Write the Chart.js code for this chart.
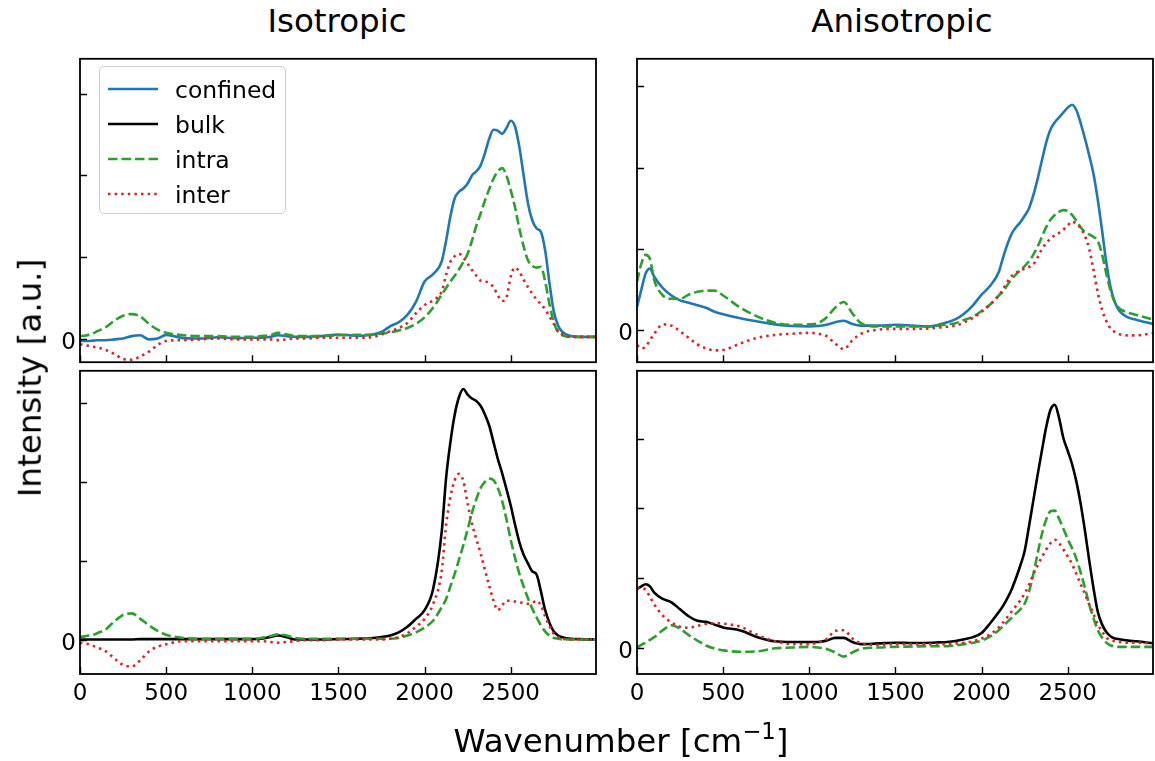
<!DOCTYPE html>
<html>
<head>
<meta charset="utf-8">
<script src="https://cdn.jsdelivr.net/npm/chart.js@4.4.0/dist/chart.umd.min.js"></script>
<style>
body { margin: 0; background: #fff; font-family: "DejaVu Sans", sans-serif; }
#fig { position: relative; width: 1155px; height: 761px; overflow: hidden; background: #fff; }
canvas { position: absolute; }
.txt { position: absolute; white-space: nowrap; color: #000; transform: translate(-50%, -50%); line-height: 1; }
.big { font-size: 32.5px; }
sup { font-size: 70%; vertical-align: 0.55em; line-height: 0; }
#legend { position: absolute; left: 99px; top: 66px; width: 187px; height: 148px; box-sizing: border-box;
  border: 1px solid #cccccc; border-radius: 5px; background: rgba(255,255,255,0.8); font-size: 23.5px; }
#legend .row { position: absolute; left: 0; height: 30px; }
#legend svg { position: absolute; left: 8px; top: 0; }
#legend span { position: absolute; left: 75px; top: 1px; }
</style>
</head>
<body>
<div id="fig">
  <canvas id="isoTop"></canvas>
  <canvas id="isoBottom"></canvas>
  <canvas id="aniTop"></canvas>
  <canvas id="aniBottom"></canvas>
  <div class="txt big" style="left:337px; top:21px;">Isotropic</div>
  <div class="txt big" style="left:902px; top:21px;">Anisotropic</div>
  <div class="txt big" style="left:30px; top:378px; transform: translate(-50%, -50%) rotate(-90deg);">Intensity [a.u.]</div>
  <div class="txt big" style="left:621px; top:741px;">Wavenumber [cm<sup>−1</sup>]</div>
  <div id="legend"></div>
</div>
<script>
// shared wavenumber grid [cm^-1]
const wavenumber = [0,25,50,75,100,150,200,250,300,350,400,450,500,600,700,800,900,1000,1050,1100,1150,1200,1250,1300,1400,1500,1600,1700,1750,1800,1850,1900,1950,2000,2050,2100,2125,2150,2175,2200,2225,2250,2275,2300,2325,2350,2375,2400,2425,2450,2475,2500,2525,2550,2575,2600,2625,2650,2675,2700,2725,2750,2775,2800,2850,2900,3000];

// isotropic, confined
const isoConfined = [-0.03,-0.03,-0.03,-0.025,-0.02,-0.02,-0.01,0.0,0.03,0.04,-0.01,0.0,0.045,
  0.005,0.0,0.015,0.005,0.01, 0.01,0.02,0.04,0.03,0.02,0.02, 0.03,0.05,0.035,0.05,
  0.08,0.15,0.20,0.29,0.45,0.70,0.79,0.95,
  1.20,1.50,1.72,1.80,1.84,1.90,2.00,2.05,2.12,2.27,2.45,2.56,2.55,2.51,2.58,2.67,2.60,2.35,2.00,1.66,1.45,1.35,1.31,1.08,0.68,0.33,0.16,0.08,
  0.03,0.02,0.02];
const isoIntra = [0.03,0.035,0.045,0.06,0.09,0.14,0.22,0.28,0.30,0.27,0.18,0.11,0.07,
  0.04,0.03,0.03,0.02,0.02, 0.03,0.04,0.07,0.05,0.03,0.03, 0.03,0.04,0.045,0.05,
  0.06,0.075,0.10,0.13,0.18,0.26,0.38,0.54,
  0.62,0.70,0.77,0.85,0.94,1.04,1.20,1.38,1.53,1.69,1.83,1.96,2.05,2.09,2.00,1.82,1.61,1.35,1.13,0.96,0.89,0.87,0.88,0.70,0.42,0.20,0.08,0.04,
  0.02,0.02,0.02];
const isoInter = [-0.07,-0.08,-0.09,-0.10,-0.11,-0.14,-0.19,-0.25,-0.26,-0.22,-0.16,-0.08,-0.03,
  -0.02,-0.01,0.0,-0.01,-0.01, -0.01,-0.01,-0.02,-0.01,0.0,0.0, 0.01,0.01,0.01,0.02,
  0.05,0.09,0.13,0.19,0.31,0.41,0.47,0.58,
  0.78,0.94,1.01,1.04,0.99,0.92,0.84,0.77,0.71,0.70,0.68,0.63,0.53,0.46,0.50,0.76,0.87,0.82,0.72,0.63,0.55,0.48,0.42,0.36,0.27,0.18,0.09,0.05,
  0.02,0.02,0.02];

// isotropic, bulk
const isoBulk = [0.01,0.01,0.01,0.01,0.01,0.01,0.01,0.01,0.01,0.015,0.015,0.015,0.015,
  0.015,0.015,0.015,0.015,0.015, 0.02,0.04,0.06,0.04,0.01,0.01, 0.01,0.015,0.02,0.03,
  0.04,0.06,0.10,0.17,0.27,0.38,0.65,1.38,
  2.05,2.50,2.85,3.07,3.17,3.10,3.05,3.02,2.96,2.85,2.71,2.50,2.29,2.11,1.91,1.70,1.46,1.24,1.08,0.97,0.87,0.83,0.62,0.38,0.22,0.11,0.06,0.04,
  0.02,0.015,0.01];
const isoBulkIntra = [0.04,0.05,0.06,0.07,0.09,0.14,0.24,0.32,0.34,0.27,0.19,0.12,0.07,
  0.03,0.02,0.02,0.02,0.02, 0.03,0.05,0.075,0.06,0.03,0.02, 0.02,0.02,0.02,0.02,
  0.02,0.02,0.03,0.06,0.10,0.16,0.25,0.42,
  0.52,0.68,0.84,1.02,1.20,1.40,1.61,1.78,1.92,2.00,2.04,2.02,1.92,1.76,1.53,1.27,1.04,0.84,0.68,0.53,0.40,0.29,0.19,0.11,0.06,0.03,0.02,0.01,
  0.01,0.01,0.01];
const isoBulkInter = [-0.03,-0.04,-0.05,-0.07,-0.09,-0.14,-0.23,-0.31,-0.33,-0.25,-0.14,-0.08,-0.05,
  -0.01,-0.01,-0.01,-0.01,-0.01, -0.01,-0.02,-0.03,-0.02,-0.01,0.0, 0.0,0.01,0.01,0.01,
  0.01,0.02,0.04,0.09,0.17,0.27,0.46,0.88,
  1.46,1.81,2.02,2.10,2.01,1.72,1.47,1.28,1.10,0.89,0.69,0.50,0.38,0.44,0.50,0.50,0.49,0.48,0.47,0.46,0.47,0.50,0.44,0.30,0.18,0.08,0.04,0.02,
  0.01,0.01,0.01];

// anisotropic, confined
const aniConfined = [0.29,0.50,0.70,0.76,0.66,0.52,0.43,0.37,0.34,0.31,0.28,0.23,0.20,
  0.15,0.11,0.075,0.055,0.05, 0.055,0.07,0.10,0.12,0.08,0.06, 0.06,0.07,0.06,0.05,
  0.07,0.10,0.14,0.21,0.31,0.44,0.55,0.72,
  0.90,1.06,1.19,1.27,1.33,1.41,1.50,1.66,1.86,2.09,2.31,2.47,2.56,2.62,2.68,2.74,2.775,2.71,2.55,2.36,2.15,1.92,1.60,1.22,0.82,0.52,0.34,0.24,
  0.16,0.13,0.08];
const aniIntra = [0.60,0.82,0.93,0.88,0.62,0.43,0.39,0.39,0.44,0.475,0.49,0.49,0.43,
  0.28,0.17,0.095,0.07,0.075, 0.09,0.16,0.28,0.35,0.21,0.09, 0.05,0.05,0.05,0.05,
  0.06,0.075,0.09,0.13,0.17,0.24,0.32,0.43,
  0.48,0.56,0.63,0.69,0.74,0.79,0.85,0.93,1.03,1.15,1.27,1.36,1.42,1.46,1.48,1.47,1.42,1.35,1.27,1.21,1.18,1.15,1.10,0.93,0.69,0.48,0.34,0.27,
  0.22,0.19,0.13];
const aniInter = [-0.18,-0.22,-0.20,-0.12,-0.04,0.075,0.06,-0.01,-0.09,-0.17,-0.22,-0.245,-0.24,
  -0.16,-0.09,-0.055,-0.04,-0.03, -0.04,-0.07,-0.16,-0.23,-0.12,-0.04, 0.01,0.02,0.02,0.025,
  0.035,0.045,0.06,0.10,0.155,0.23,0.32,0.43,
  0.51,0.60,0.67,0.71,0.74,0.76,0.78,0.81,0.90,1.00,1.07,1.13,1.17,1.20,1.24,1.29,1.34,1.31,1.26,1.16,1.00,0.74,0.46,0.25,0.11,0.02,-0.02,-0.045,
  -0.06,-0.06,-0.03];

// anisotropic, bulk
const aniBulk = [0.84,0.88,0.91,0.88,0.79,0.70,0.65,0.55,0.45,0.385,0.37,0.33,0.29,
  0.245,0.15,0.09,0.08,0.08, 0.08,0.10,0.14,0.14,0.08,0.05, 0.06,0.07,0.065,0.07,
  0.075,0.08,0.095,0.12,0.15,0.21,0.35,0.51,
  0.60,0.71,0.84,1.00,1.18,1.39,1.74,2.11,2.48,2.83,3.17,3.42,3.49,3.30,3.01,2.83,2.64,2.39,2.07,1.68,1.25,0.85,0.51,0.33,0.22,0.16,0.13,0.12,
  0.10,0.09,0.06];
const aniBulkIntra = [0.0,0.04,0.07,0.11,0.15,0.25,0.32,0.27,0.18,0.10,0.03,-0.015,-0.04,
  -0.06,-0.055,-0.01,0.0,0.01, 0.0,-0.02,-0.07,-0.13,-0.07,-0.02, 0.0,0.01,0.015,0.02,
  0.02,0.02,0.03,0.05,0.07,0.10,0.16,0.25,
  0.31,0.37,0.43,0.49,0.55,0.63,0.80,1.05,1.35,1.63,1.84,1.96,1.97,1.85,1.71,1.56,1.43,1.28,1.08,0.86,0.62,0.42,0.25,0.14,0.07,0.03,0.02,0.01,
  0.01,0.01,0.01];
const aniBulkInter = [0.86,0.86,0.83,0.73,0.62,0.46,0.36,0.30,0.285,0.31,0.34,0.35,0.345,
  0.30,0.18,0.09,0.05,0.05, 0.07,0.12,0.24,0.25,0.13,0.06, 0.04,0.05,0.05,0.05,
  0.05,0.05,0.06,0.07,0.09,0.13,0.19,0.29,
  0.36,0.44,0.52,0.60,0.68,0.78,0.90,1.05,1.18,1.30,1.41,1.50,1.55,1.50,1.41,1.31,1.20,1.06,0.91,0.77,0.62,0.48,0.33,0.23,0.14,0.11,0.09,0.08,
  0.07,0.07,0.06];

// series styles (legend order)
const seriesNames = ['confined', 'bulk', 'intra', 'inter'];
const seriesColors = ['#1f77b4', '#000000', '#2ca02c', '#d62728'];
const seriesDashes = [[], [], [9.5, 4], [2.5, 4.1]];

// axes: x range and ticks, y ranges (tick units) and ticks
const xMin = 0, xMax = 2995;
const xTickValues = [0, 500, 1000, 1500, 2000, 2500];
const yTickValues = [0, 1, 2, 3];
const yRanges = {
  isoTop: [-0.29, 3.43],
  isoBottom: [-0.425, 3.4],
  aniTop: [-0.39, 3.34],
  aniBottom: [-0.38, 3.98]
};

Chart.defaults.font.family = '"DejaVu Sans", sans-serif';
Chart.defaults.font.size = 23;
Chart.defaults.color = '#000';

function toPoints(values) {
  return values.map((v, i) => ({ x: wavenumber[i], y: v }));
}

function makeSet(which, values) {
  return {
    label: seriesNames[which],
    data: toPoints(values),
    borderColor: seriesColors[which],
    borderDash: seriesDashes[which],
    borderWidth: 2.6,
    borderCapStyle: 'butt',
    pointRadius: 0,
    cubicInterpolationMode: 'monotone',
    fill: false,
    order: which === 3 ? 1 : (which === 2 ? 2 : 3)
  };
}

// frame and inward ticks like the original
const framePlugin = {
  id: 'frame',
  afterDatasetsDraw(chart) {
    const { ctx, chartArea: a, scales } = chart;
    ctx.save();
    ctx.strokeStyle = '#000';
    ctx.lineWidth = 1.4;
    ctx.beginPath();
    scales.x.ticks.forEach(t => {
      const px = Math.round(scales.x.getPixelForValue(t.value)) + 0.5;
      ctx.moveTo(px, a.bottom);
      ctx.lineTo(px, a.bottom - 7);
    });
    scales.y.ticks.forEach(t => {
      const py = Math.round(scales.y.getPixelForValue(t.value)) + 0.5;
      ctx.moveTo(a.left, py);
      ctx.lineTo(a.left + 7, py);
    });
    ctx.stroke();
    ctx.lineWidth = 1.8;
    ctx.strokeRect(a.left, a.top, a.right - a.left, a.bottom - a.top);
    ctx.restore();
  }
};

// frame boxes in page pixels: left, top, right, bottom
const panels = [
  { id: 'isoTop', box: [80, 56, 596, 365], bottom: false, sets: [[0, isoConfined], [2, isoIntra], [3, isoInter]] },
  { id: 'isoBottom', box: [80, 368, 596, 674], bottom: true, sets: [[1, isoBulk], [2, isoBulkIntra], [3, isoBulkInter]] },
  { id: 'aniTop', box: [637, 56, 1153, 365], bottom: false, sets: [[0, aniConfined], [2, aniIntra], [3, aniInter]] },
  { id: 'aniBottom', box: [637, 368, 1153, 674], bottom: true, sets: [[1, aniBulk], [2, aniBulkIntra], [3, aniBulkInter]] }
];

panels.forEach(p => {
  const [l, t, r, b] = p.box;
  const padL = 50, padT = 15, padR = 15, padB = p.bottom ? 45 : 15;
  const cv = document.getElementById(p.id);
  cv.width = r - l + padL + padR;
  cv.height = b - t + padT + padB;
  cv.style.left = (l - padL) + 'px';
  cv.style.top = (t - padT) + 'px';
  cv.style.width = cv.width + 'px';
  cv.style.height = cv.height + 'px';

  new Chart(cv, {
    type: 'line',
    data: { datasets: p.sets.map(s => makeSet(s[0], s[1])) },
    options: {
      responsive: false,
      animation: false,
      devicePixelRatio: 1,
      layout: { padding: { left: 0, top: padT, right: padR, bottom: 0 } },
      plugins: { legend: { display: false }, tooltip: { enabled: false } },
      scales: {
        x: {
          type: 'linear',
          min: xMin,
          max: xMax,
          grid: { display: false, drawTicks: false },
          border: { display: false },
          ticks: { display: p.bottom, autoSkip: false, padding: 6, maxRotation: 0,
            callback: v => String(v) },
          afterBuildTicks: s => { s.ticks = xTickValues.map(v => ({ value: v })); },
          afterFit: s => { s.height = padB; }
        },
        y: {
          min: yRanges[p.id][0],
          max: yRanges[p.id][1],
          grid: { display: false, drawTicks: false },
          border: { display: false },
          ticks: { autoSkip: false, padding: 4, labelOffset: 4,
            callback: v => (v === 0 ? '0' : '') },
          afterBuildTicks: s => { s.ticks = yTickValues.map(v => ({ value: v })); },
          afterFit: s => { s.width = padL; }
        }
      }
    },
    plugins: [framePlugin]
  });
});

// legend, shared by all panels
const legend = document.getElementById('legend');
seriesNames.forEach((name, i) => {
  const row = document.createElement('div');
  row.className = 'row';
  row.style.top = (8 + i * 35) + 'px';
  row.style.width = '100%';
  const dash = seriesDashes[i].length ? seriesDashes[i].join(' ') : 'none';
  row.innerHTML = '<svg width="52" height="30"><line x1="0" y1="14" x2="50" y2="14" stroke="' + seriesColors[i] +
    '" stroke-width="2.6" stroke-dasharray="' + dash + '"/></svg><span>' + name + '</span>';
  legend.appendChild(row);
});
</script>
</body>
</html>
